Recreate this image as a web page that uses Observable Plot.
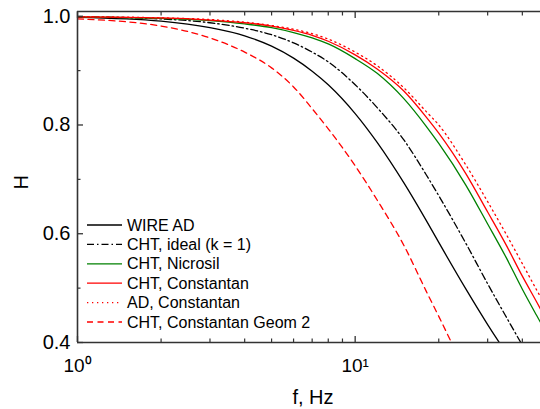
<!DOCTYPE html>
<html>
<head>
<meta charset="utf-8">
<script src="https://cdn.jsdelivr.net/npm/d3@7"></script>
<script src="https://cdn.jsdelivr.net/npm/@observablehq/plot@0.6"></script>
<style>
  body { margin: 0; background: #fff; }
  #chart svg { display: block; }
</style>
</head>
<body>
<div id="chart"></div>
<script>
// ---- data ----
const freq = [1, 2, 3, 4, 5, 6, 7, 8, 10, 12, 15, 18, 20, 25, 30, 35, 40, 45, 50];
const wireAD       = [0.998, 0.991, 0.979, 0.964, 0.945, 0.923, 0.899, 0.874, 0.821, 0.768, 0.693, 0.625, 0.584, 0.499, 0.433, 0.381, 0.339, null, null];
const chtIdeal     = [0.999, 0.995, 0.988, 0.978, 0.966, 0.951, 0.934, 0.916, 0.874, 0.832, 0.772, 0.709, 0.670, 0.583, 0.508, 0.447, 0.395, 0.350, null];
const chtNicrosil  = [0.999, 0.996, 0.992, 0.986, 0.979, 0.970, 0.960, 0.949, 0.922, 0.895, 0.848, 0.798, 0.766, 0.690, 0.618, 0.556, 0.498, 0.450, 0.408];
const chtConstantan= [0.999, 0.997, 0.993, 0.988, 0.982, 0.974, 0.965, 0.954, 0.929, 0.903, 0.862, 0.815, 0.785, 0.711, 0.640, 0.579, 0.522, 0.475, 0.432];
const adConstantan = [0.9993, 0.997, 0.994, 0.989, 0.983, 0.976, 0.968, 0.958, 0.934, 0.909, 0.868, 0.825, 0.800, 0.727, 0.659, 0.599, 0.545, 0.497, 0.455];
const chtGeom2     = [0.995, 0.982, 0.960, 0.934, 0.905, 0.870, 0.830, 0.793, 0.725, 0.662, 0.578, 0.495, 0.448, 0.345, null, null, null, null, null];

const seriesNames = ["WIRE AD", "CHT, ideal (k = 1)", "CHT, Nicrosil", "CHT, Constantan", "AD, Constantan", "CHT, Constantan Geom 2"];
const seriesValues = [wireAD, chtIdeal, chtNicrosil, chtConstantan, adConstantan, chtGeom2];

const xMajorTicks = [1, 10];
const xTickLabels = ["10\u2070", "10\u00B9"];
const xMinorTicks = [2, 3, 4, 5, 6, 7, 8, 9, 20, 30, 40];
const yMajorTicks = [0.4, 0.6, 0.8, 1.0];
const yMinorTicks = [0.5, 0.7, 0.9];
const xDomain = [1, 46.5];
const yDomain = [0.4, 1.0087];

// ---- styles ----
const styles = [
  {stroke: "#000000", dash: null,         width: 1.3},
  {stroke: "#000000", dash: "7,3,1.5,3",  width: 1.3},
  {stroke: "#008000", dash: null,         width: 1.3},
  {stroke: "#ff0000", dash: null,         width: 1.3},
  {stroke: "#ff0000", dash: "1.3,3.7",    width: 1.3},
  {stroke: "#ff0000", dash: "6,4.5",      width: 1.3}
];

const table = seriesNames.map((name, s) =>
  freq.map((f, i) => ({series: name, f, H: seriesValues[s][i]}))
);

const xLabelMap = new Map(xMajorTicks.map((t, i) => [t, xTickLabels[i]]));
const axisColor = "#333";

function legendMark() {
  const g = d3.create("svg:g").attr("text-anchor", "start");
  seriesNames.forEach((name, i) => {
    const y = 225 + i * 19.4;
    const st = styles[i];
    g.append("line")
      .attr("x1", 87).attr("x2", 122).attr("y1", y).attr("y2", y)
      .attr("stroke", st.stroke).attr("stroke-width", st.width)
      .attr("stroke-dasharray", st.dash);
    g.append("text")
      .attr("x", 127).attr("y", y).attr("dy", "0.35em")
      .attr("text-anchor", "start")
      .attr("font-size", 16).attr("fill", "#000")
      .text(name);
  });
  return g.node();
}

const marks = [
  ...table.map((rows, s) => Plot.line(rows, {
    x: "f", y: "H", stroke: styles[s].stroke, strokeWidth: styles[s].width,
    strokeDasharray: styles[s].dash, curve: "monotone-x", clip: true
  })),
  // frame lines
  Plot.ruleX([xDomain[0]], {stroke: axisColor, strokeWidth: 1.6}),
  Plot.ruleY([yDomain[0]], {stroke: axisColor, strokeWidth: 1.6}),
  Plot.ruleY([yDomain[1]], {stroke: axisColor, strokeWidth: 1.6}),
  // x axes
  Plot.axisX(xMajorTicks, {anchor: "bottom", tickSize: -6, tickPadding: 22, stroke: axisColor, strokeWidth: 1.3,
    tickFormat: d => xLabelMap.get(d), fontSize: 19, label: null}),
  Plot.axisX(xMinorTicks, {anchor: "bottom", tickSize: -3.5, stroke: axisColor, strokeWidth: 1.2, tickFormat: () => "", label: null}),
  Plot.axisX(xMajorTicks, {anchor: "top", tickSize: -6, stroke: axisColor, strokeWidth: 1.3, tickFormat: () => "", label: null}),
  Plot.axisX(xMinorTicks, {anchor: "top", tickSize: -3.5, stroke: axisColor, strokeWidth: 1.2, tickFormat: () => "", label: null}),
  // y axes
  Plot.axisY(yMajorTicks, {anchor: "left", tickSize: -6, tickPadding: 13, stroke: axisColor, strokeWidth: 1.3,
    tickFormat: d3.format(".1f"), fontSize: 20, label: null}),
  Plot.axisY(yMinorTicks, {anchor: "left", tickSize: -3.5, stroke: axisColor, strokeWidth: 1.2, tickFormat: () => "", label: null}),
  // axis titles
  Plot.text(["f, Hz"], {frameAnchor: "bottom", dx: 4, dy: 55, fontSize: 20, lineAnchor: "middle", fill: "#000"}),
  Plot.text(["H"], {frameAnchor: "left", dx: -55.5, dy: 12.5, rotate: -90, fontSize: 20, lineAnchor: "middle", fill: "#000"}),
  legendMark
];

const chart = Plot.plot({
  width: 540,
  height: 409,
  marginLeft: 77,
  marginRight: 0,
  marginTop: 11,
  marginBottom: 67,
  x: {type: "log", domain: xDomain, axis: null},
  y: {domain: yDomain, axis: null},
  style: {fontFamily: "'Liberation Sans', Arial, sans-serif", fontSize: "20px", color: "#000", background: "#fff"},
  marks
});
document.getElementById("chart").appendChild(chart);
</script>
</body>
</html>
